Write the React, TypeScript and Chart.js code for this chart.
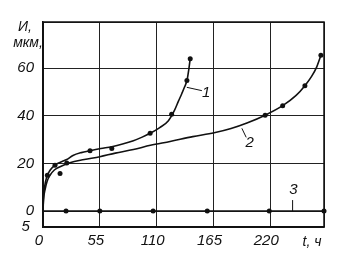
import React, { useEffect, useRef } from "react";
import { Chart, registerables } from "chart.js";

Chart.register(...registerables);

// Curve 1 (smooth line) and its measured points
const curve1Line: [number, number][] = [
  [0, 0], [0.5, 6], [1.5, 10], [3.5, 14.2], [7, 17.2], [11.6, 19.3], [18, 20.7], [23, 21.6],
  [29, 23.3], [37, 24.5], [45.5, 25.3], [56, 26.2], [66.6, 27], [77, 28.1], [87.5, 29.5],
  [96, 31], [103.7, 32.6], [113, 35], [121.4, 37.9], [127, 42], [131, 46], [134.4, 49.3],
  [137, 52], [139.5, 55], [141, 59], [142.5, 64],
];
const curve1Points: [number, number][] = [
  [4.2, 15], [11.6, 19.2], [45.5, 25.3], [66.6, 26.2], [103.7, 32.6], [124.5, 40.6],
  [139.3, 54.8], [142.5, 63.9],
];

// Curve 2
const curve2Line: [number, number][] = [
  [0, 0], [0.5, 4.6], [2, 9], [4, 12.5], [6.8, 15], [11, 17.2], [16.5, 18.6], [26, 20.3],
  [40, 21.6], [55, 22.8], [70, 24.3], [87.5, 25.8], [104, 27.6], [123, 29.2], [145, 31.2],
  [165.7, 32.8], [182, 34.6], [197.4, 36.9], [215, 40.2], [232, 44.2], [245, 48.5],
  [253.5, 52.6], [260, 56.5], [265, 60.5], [269, 65.3],
];
const curve2Points: [number, number][] = [
  [16.5, 15.7], [23, 20.1], [215, 40.2], [232, 44.2], [253.5, 52.6], [269, 65.3],
];

// Curve 3
const curve3Line: [number, number][] = [[0, 0], [272, 0]];
const curve3Points: [number, number][] = [
  [22.3, 0], [55, 0], [106.6, 0], [159, 0], [219, 0], [272, 0],
];

const xTickValues = [0, 55, 110, 165, 220, 272];
const xTickLabels = ["0", "55", "110", "165", "220", ""];
const yTickValues = [-6.7, 0, 20, 40, 60, 79.3];
const yTickLabels = ["5 ", "0", "20", "40", "60", ""];

const curveLabels = [
  { text: "1", at: [158, 49.6], lead: [[139.2, 51.9], [153.8, 50.5]] },
  { text: "2", at: [200, 28.7], lead: [[192.5, 34.7], [196.7, 30.9]] },
  { text: "3", at: [242.5, 8.8], lead: [[241.6, 4.6], [241.6, 0]] },
];

const toXY = (arr: [number, number][]) => arr.map(([x, y]) => ({ x, y }));

const FONT = "'Liberation Sans', Arial, sans-serif";

export default function App() {
  const ref = useRef<HTMLCanvasElement>(null);

  useEffect(() => {
    const annotate = {
      id: "annotate",
      afterDraw(chart: any) {
        const ctx = chart.ctx;
        const xs = chart.scales.x;
        const ys = chart.scales.y;
        const L = xs.getPixelForValue(xs.min);
        const R = xs.getPixelForValue(xs.max);
        const T = ys.getPixelForValue(ys.max);
        const B = ys.getPixelForValue(ys.min);
        ctx.save();
        ctx.strokeStyle = "#111";
        ctx.lineWidth = 1.5;
        ctx.strokeRect(L, T, R - L, B - T);
        ctx.fillStyle = "#111";
        ctx.lineWidth = 1;
        ctx.font = `italic 15px ${FONT}`;
        ctx.textAlign = "center";
        ctx.textBaseline = "middle";
        for (const c of curveLabels) {
          ctx.beginPath();
          ctx.moveTo(xs.getPixelForValue(c.lead[0][0]), ys.getPixelForValue(c.lead[0][1]));
          ctx.lineTo(xs.getPixelForValue(c.lead[1][0]), ys.getPixelForValue(c.lead[1][1]));
          ctx.stroke();
          ctx.fillText(c.text, xs.getPixelForValue(c.at[0]), ys.getPixelForValue(c.at[1]));
        }
        ctx.font = `italic 14px ${FONT}`;
        ctx.fillText("И,", L - 18, ys.getPixelForValue(77));
        ctx.fillText("мкм,", L - 15, ys.getPixelForValue(70.6));
        ctx.fillText("t, ч", R - 12, B + 15);
        ctx.restore();
      },
    };

    const lineDs = (data: [number, number][]) => ({
      data: toXY(data),
      borderColor: "#111",
      borderWidth: 1.6,
      pointRadius: 0,
      cubicInterpolationMode: "monotone" as const,
      fill: false,
      clip: false as any,
    });
    const ptDs = (data: [number, number][]) => ({
      data: toXY(data),
      showLine: false,
      pointRadius: 2.5,
      pointBackgroundColor: "#111",
      pointBorderColor: "#111",
      pointBorderWidth: 0,
      clip: false as any,
    });

    const chart = new Chart(ref.current!, {
      type: "line",
      data: {
        datasets: [
          lineDs(curve1Line),
          ptDs(curve1Points),
          lineDs(curve2Line),
          ptDs(curve2Points),
          lineDs(curve3Line),
          ptDs(curve3Points),
        ] as any,
      },
      options: {
        animation: false,
        responsive: false,
        events: [],
        layout: { padding: { left: 0, top: 22, right: 24, bottom: 0 } },
        plugins: { legend: { display: false }, tooltip: { enabled: false } },
        scales: {
          x: {
            type: "linear",
            min: 0,
            max: 272,
            afterBuildTicks: (s: any) => {
              s.ticks = xTickValues.map((v) => ({ value: v }));
            },
            afterFit: (s: any) => {
              s.height = 38;
            },
            ticks: {
              autoSkip: false,
              maxRotation: 0,
              padding: 5,
              labelOffset: -4,
              color: "#111",
              font: { family: FONT, size: 15, style: "italic" },
              callback: (_v: any, i: number) => xTickLabels[i],
            },
            grid: { color: "#222", lineWidth: 1, drawTicks: false },
            border: { color: "#111", width: 1.5 },
          },
          y: {
            type: "linear",
            min: -6.7,
            max: 79.3,
            afterBuildTicks: (s: any) => {
              s.ticks = yTickValues.map((v) => ({ value: v }));
            },
            afterFit: (s: any) => {
              s.width = 43;
            },
            ticks: {
              autoSkip: false,
              padding: 9,
              color: "#111",
              font: { family: FONT, size: 15, style: "italic" },
              callback: (_v: any, i: number) => yTickLabels[i],
            },
            grid: { color: "#222", lineWidth: 1, drawTicks: false },
            border: { color: "#111", width: 1.5 },
          },
        },
      },
      plugins: [annotate],
    });
    return () => chart.destroy();
  }, []);

  return (
    <div style={{ position: "absolute", left: 0, top: 0, width: 348, height: 265, background: "#fff" }}>
      <canvas ref={ref} width={348} height={265} />
    </div>
  );
}
